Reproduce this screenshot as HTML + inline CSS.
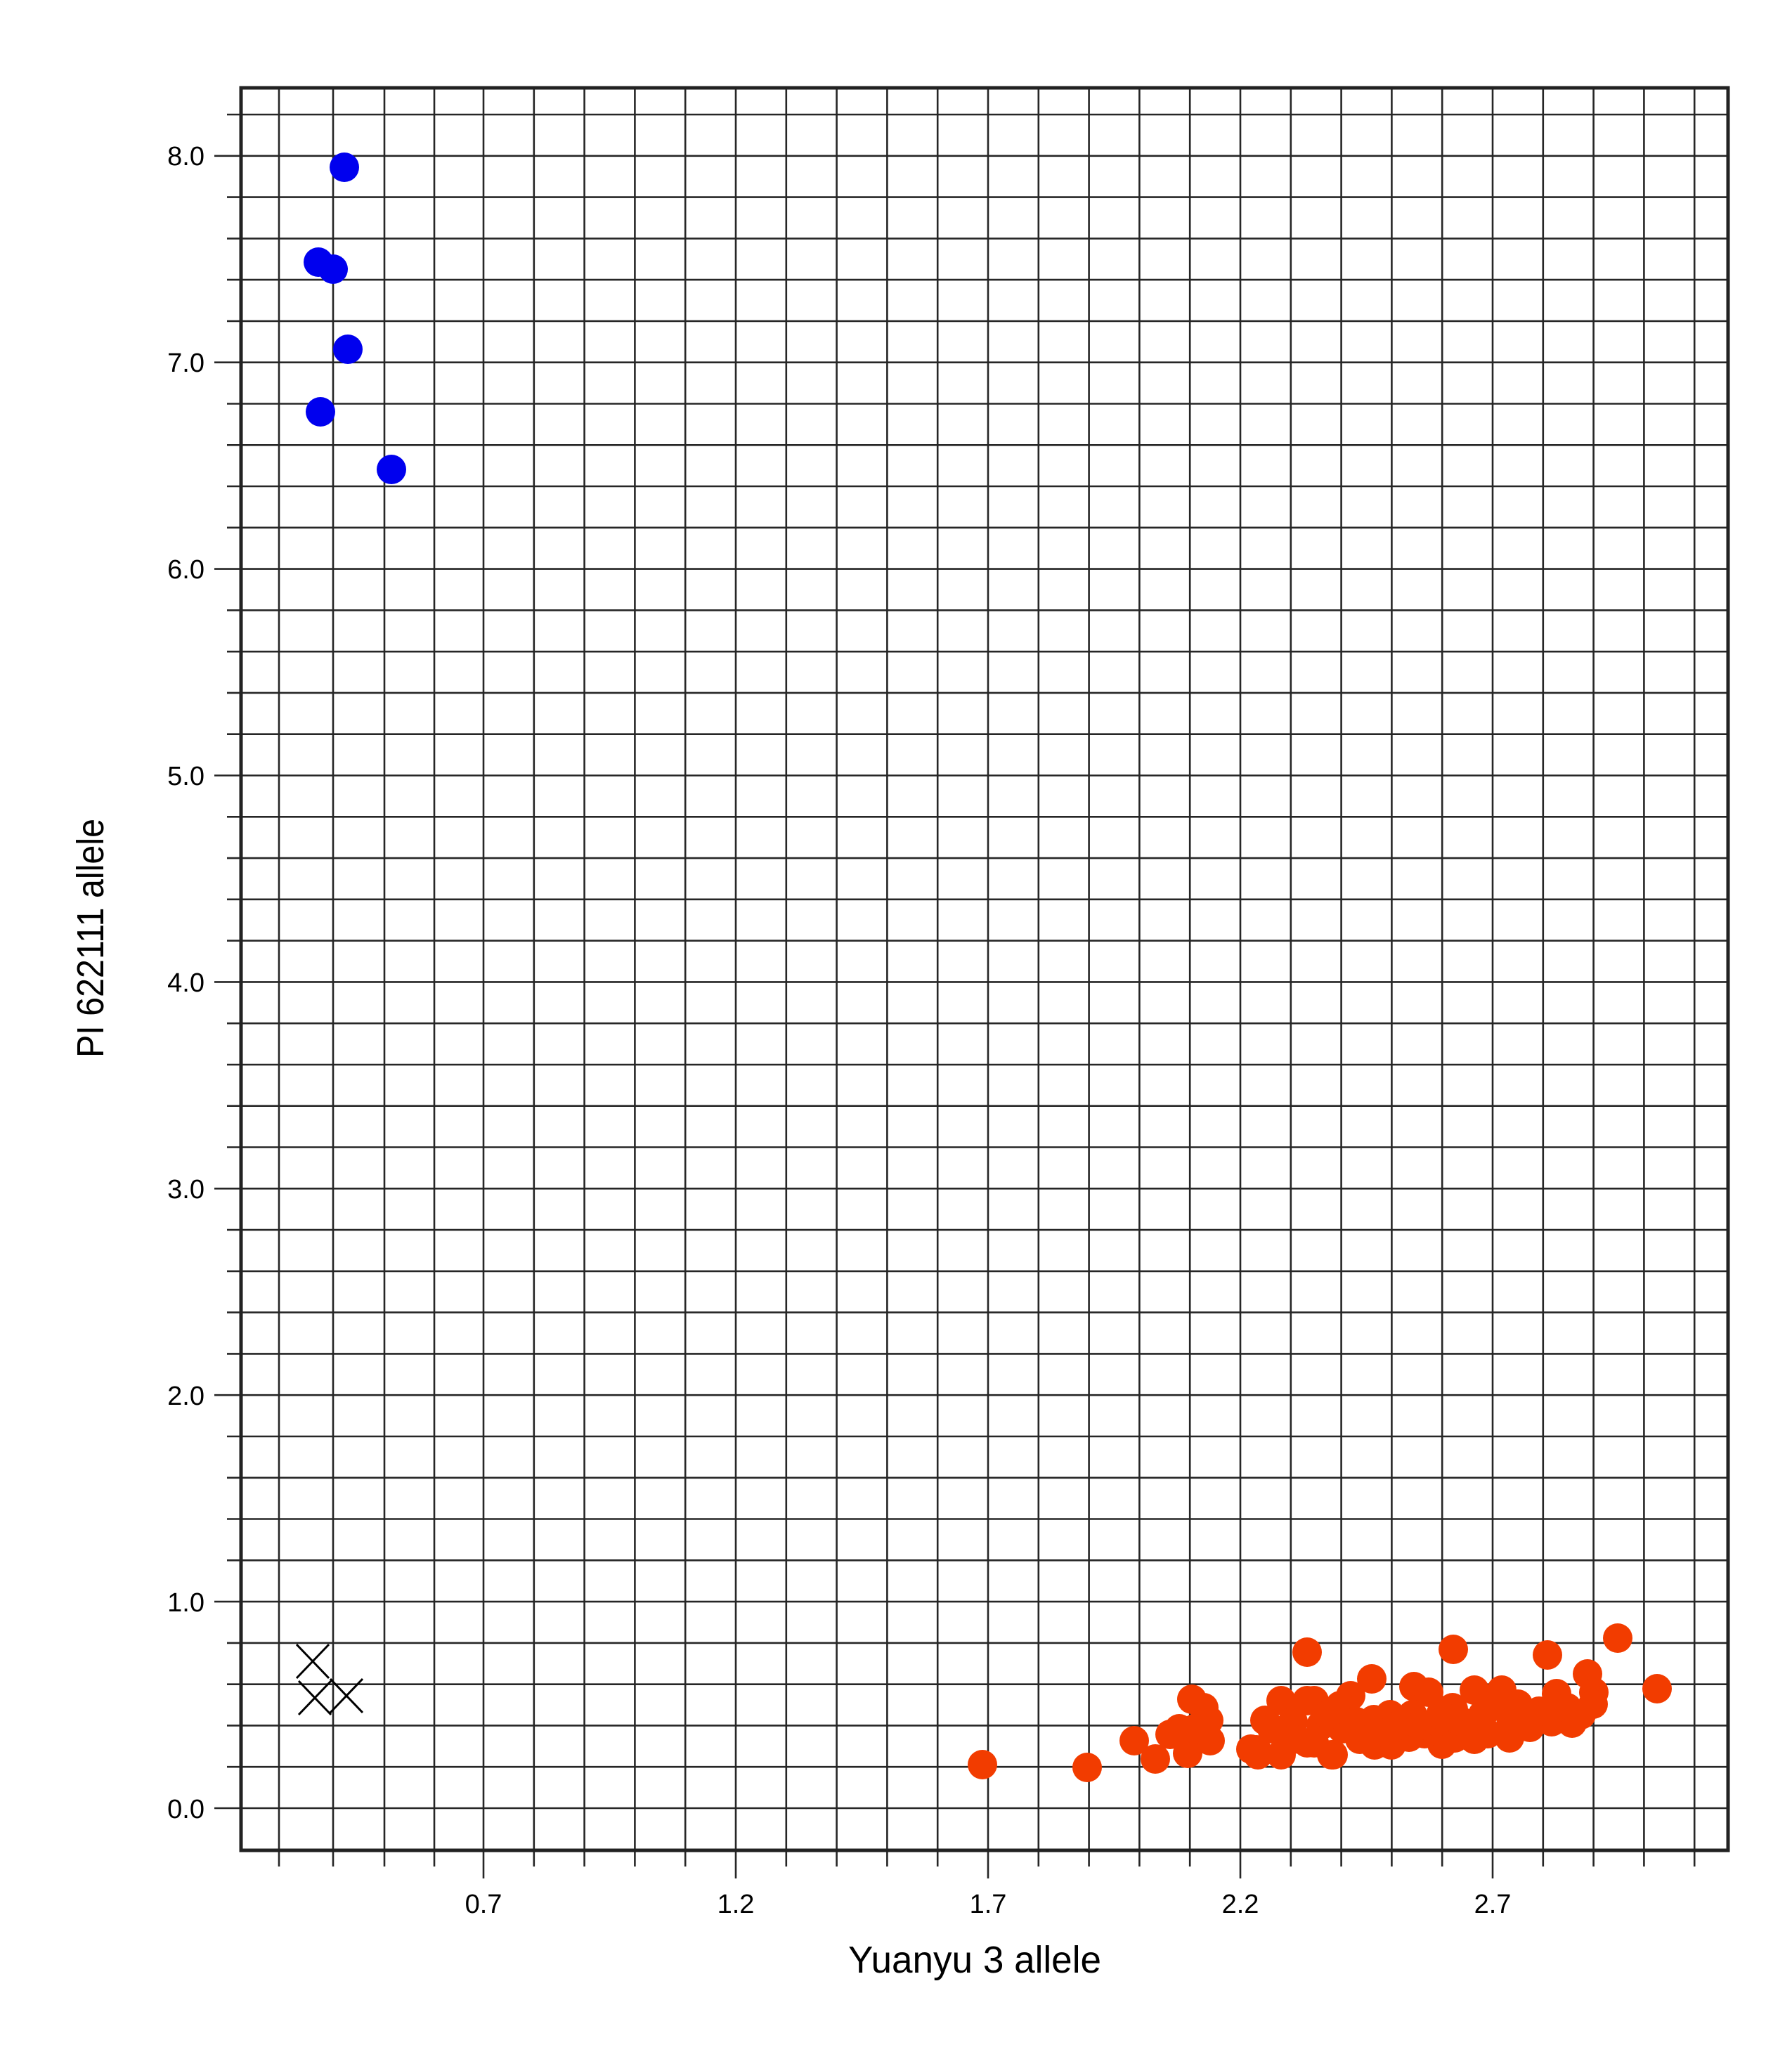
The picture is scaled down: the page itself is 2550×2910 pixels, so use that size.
<!DOCTYPE html>
<html><head><meta charset="utf-8"><style>
html,body{margin:0;padding:0;background:#fff;}
svg{display:block;font-family:"Liberation Sans",sans-serif;}
</style></head><body>
<svg width="2550" height="2910" viewBox="0 0 2550 2910" xmlns="http://www.w3.org/2000/svg">
<rect width="2550" height="2910" fill="#fff"/>
<g stroke="#262626" stroke-width="2.6" fill="none">
<path d="M397 125V2656M474 125V2656M547 125V2656M618 125V2656M688 125V2673M759.8 125V2656M831.6 125V2656M903.4 125V2656M975.2 125V2656M1047 125V2673M1118.8 125V2656M1190.6 125V2656M1262.4 125V2656M1334.2 125V2656M1406 125V2673M1477.8 125V2656M1549.6 125V2656M1621.4 125V2656M1693.2 125V2656M1765 125V2673M1836.8 125V2656M1908.6 125V2656M1980.4 125V2656M2052.2 125V2656M2124 125V2673M2195.8 125V2656M2267.6 125V2656M2339.4 125V2656M2411.2 125V2656"/>
<path d="M305 2573H2459M323 2514.2H2459M323 2455.4H2459M323 2396.7H2459M323 2337.9H2459M305 2279.1H2459M323 2220.3H2459M323 2161.5H2459M323 2102.8H2459M323 2044H2459M305 1985.2H2459M323 1926.4H2459M323 1867.6H2459M323 1808.9H2459M323 1750.1H2459M305 1691.3H2459M323 1632.5H2459M323 1573.7H2459M323 1515H2459M323 1456.2H2459M305 1397.4H2459M323 1338.6H2459M323 1279.8H2459M323 1221.1H2459M323 1162.3H2459M305 1103.5H2459M323 1044.7H2459M323 985.9H2459M323 927.2H2459M323 868.4H2459M305 809.6H2459M323 750.8H2459M323 692H2459M323 633.3H2459M323 574.5H2459M305 515.7H2459M323 456.9H2459M323 398.1H2459M323 339.4H2459M323 280.6H2459M305 221.8H2459M323 163H2459"/>
</g>
<rect x="343" y="125" width="2116" height="2508" fill="none" stroke="#222" stroke-width="5"/>
<g font-size="38" fill="#000" text-anchor="end">
<text x="291" y="235">8.0</text><text x="291" y="529">7.0</text><text x="291" y="823">6.0</text><text x="291" y="1117">5.0</text><text x="291" y="1411">4.0</text><text x="291" y="1705">3.0</text><text x="291" y="1999">2.0</text><text x="291" y="2293">1.0</text><text x="291" y="2587">0.0</text>
</g>
<g font-size="38" fill="#000" text-anchor="middle">
<text x="688" y="2722">0.7</text><text x="1047" y="2722">1.2</text><text x="1406" y="2722">1.7</text><text x="1765" y="2722">2.2</text><text x="2124" y="2722">2.7</text>
</g>
<text x="1387" y="2807" font-size="54" text-anchor="middle" textLength="360" lengthAdjust="spacingAndGlyphs">Yuanyu 3 allele</text>
<text transform="translate(147,1335) rotate(-90)" font-size="54" text-anchor="middle" textLength="340" lengthAdjust="spacingAndGlyphs">PI 622111 allele</text>
<g fill="#0000ee">
<circle cx="490" cy="238" r="21"/><circle cx="453" cy="373" r="21"/><circle cx="474" cy="383" r="21"/><circle cx="495" cy="497" r="21"/><circle cx="456" cy="586" r="21"/><circle cx="557" cy="668" r="21"/>
</g>
<g stroke="#000" stroke-width="3" fill="none">
<path d="M422 2340L468 2388M468 2340L422 2388M425 2392L471 2440M471 2392L425 2440M470 2389L516 2437M516 2389L470 2437"/>
</g>
<g fill="#f23c00">
<circle cx="1398" cy="2511" r="21"/><circle cx="1547" cy="2515" r="21"/><circle cx="1614" cy="2477" r="21"/><circle cx="1644" cy="2503" r="21"/>
<circle cx="1696" cy="2418" r="21"/><circle cx="1713" cy="2430" r="21"/><circle cx="1720" cy="2448" r="21"/><circle cx="1665" cy="2468" r="21"/><circle cx="1678" cy="2460" r="21"/><circle cx="1722" cy="2477" r="21"/><circle cx="1690" cy="2495" r="21"/><circle cx="1700" cy="2460" r="21"/>
<circle cx="1860" cy="2351" r="21"/><circle cx="1800" cy="2448" r="21"/><circle cx="1780" cy="2489" r="21"/><circle cx="1790" cy="2497" r="21"/><circle cx="1823" cy="2420" r="21"/><circle cx="1823" cy="2497" r="21"/><circle cx="1860" cy="2420" r="21"/><circle cx="1860" cy="2480" r="21"/><circle cx="1788" cy="2490" r="21"/>
<circle cx="2068" cy="2347" r="21"/><circle cx="2202" cy="2355" r="21"/><circle cx="2302" cy="2331" r="21"/><circle cx="2358" cy="2403" r="21"/><circle cx="2259" cy="2382" r="21"/><circle cx="2268" cy="2408" r="21"/><circle cx="2267" cy="2425" r="21"/><circle cx="2215" cy="2410" r="21"/><circle cx="2237" cy="2452" r="21"/><circle cx="2208" cy="2450" r="21"/><circle cx="2177" cy="2458" r="21"/><circle cx="2148" cy="2473" r="21"/><circle cx="2137" cy="2405" r="21"/><circle cx="2098" cy="2405" r="21"/><circle cx="2098" cy="2475" r="21"/><circle cx="2117" cy="2467" r="21"/><circle cx="2068" cy="2432" r="21"/><circle cx="2070" cy="2473" r="21"/><circle cx="2052" cy="2482" r="21"/><circle cx="2027" cy="2467" r="21"/><circle cx="2012" cy="2400" r="21"/><circle cx="2033" cy="2408" r="21"/><circle cx="2005" cy="2472" r="21"/><circle cx="1978" cy="2440" r="21"/><circle cx="1980" cy="2483" r="21"/><circle cx="1956" cy="2483" r="21"/><circle cx="1952" cy="2389" r="21"/><circle cx="1955" cy="2447" r="21"/><circle cx="1922" cy="2413" r="21"/><circle cx="1907" cy="2427" r="21"/><circle cx="1895" cy="2497" r="21"/><circle cx="1897" cy="2497" r="21"/><circle cx="1870" cy="2420" r="21"/><circle cx="1870" cy="2480" r="21"/><circle cx="2067" cy="2430" r="21"/>
<circle cx="1810" cy="2460" r="21"/><circle cx="1840" cy="2450" r="21"/><circle cx="1840" cy="2475" r="21"/><circle cx="1880" cy="2455" r="21"/><circle cx="1910" cy="2460" r="21"/><circle cx="1930" cy="2450" r="21"/><circle cx="1935" cy="2475" r="21"/><circle cx="1960" cy="2465" r="21"/><circle cx="1990" cy="2455" r="21"/><circle cx="2010" cy="2440" r="21"/><circle cx="2020" cy="2455" r="21"/><circle cx="2045" cy="2450" r="21"/><circle cx="2050" cy="2440" r="21"/><circle cx="2080" cy="2450" r="21"/><circle cx="2110" cy="2440" r="21"/><circle cx="2125" cy="2425" r="21"/><circle cx="2150" cy="2445" r="21"/><circle cx="2160" cy="2425" r="21"/><circle cx="2190" cy="2435" r="21"/><circle cx="2230" cy="2430" r="21"/><circle cx="2250" cy="2440" r="21"/><circle cx="1890" cy="2440" r="21"/>
</g>
</svg>
</body></html>
